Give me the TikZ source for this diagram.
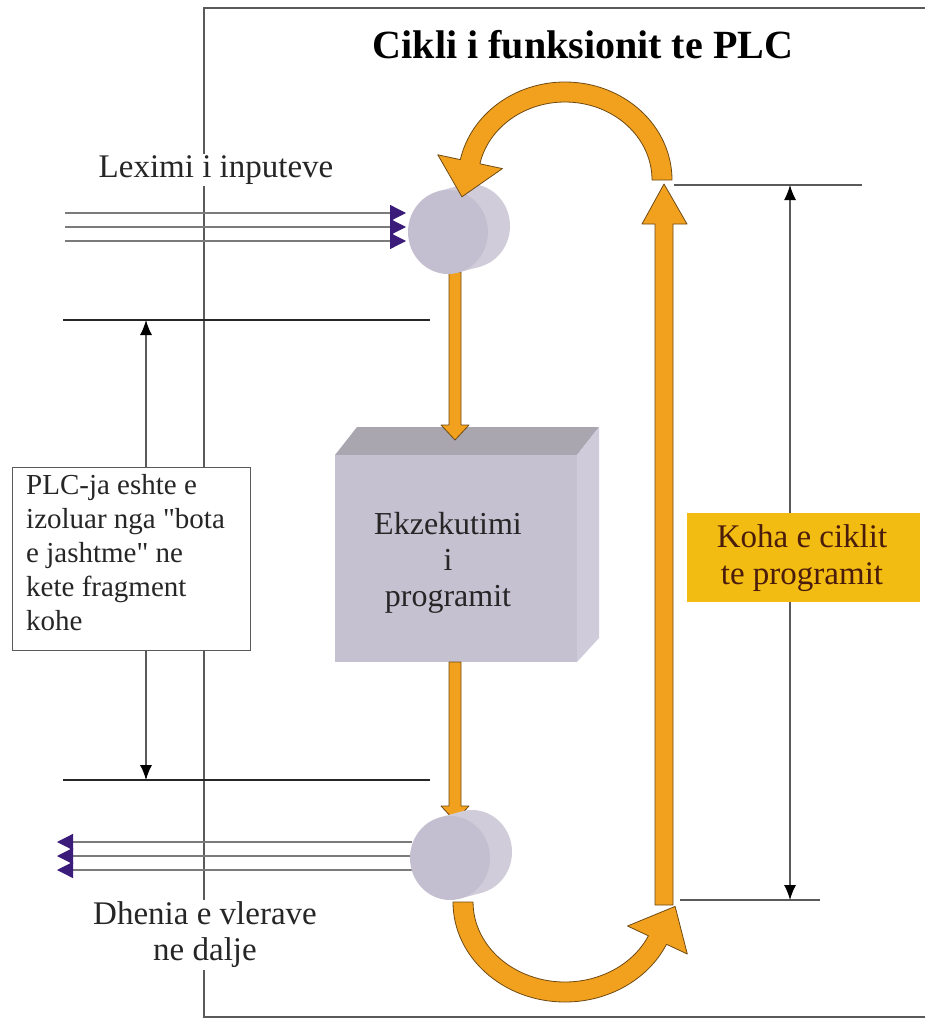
\documentclass[tikz,border=0pt]{standalone}
\usepackage{fontspec}
\setmainfont{Liberation Serif}
\usetikzlibrary{arrows.meta}
\definecolor{orng}{HTML}{F2A11E}
\definecolor{orngdark}{HTML}{6E4A12}
\definecolor{purp}{HTML}{3B1C7A}
\definecolor{cylfront}{HTML}{C4BFD0}
\definecolor{cylback}{HTML}{D0CCDA}
\definecolor{boxfront}{HTML}{C5C1D1}
\definecolor{boxtop}{HTML}{A9A6B0}
\definecolor{boxside}{HTML}{CFCBDB}
\definecolor{gold}{HTML}{F2BC12}
\definecolor{brown}{HTML}{4A1C0C}
\definecolor{linegray}{HTML}{5A5A5A}
\begin{document}
\begin{tikzpicture}[x=1pt,y=-1pt,
  thinline/.style={draw=linegray, line width=1.3pt},
  sigline/.style={draw=linegray!80, line width=1.3pt},
  sepline/.style={draw=black!85, line width=1.8pt},
  orangeshape/.style={fill=orng, draw=orngdark, line width=0.8pt, line join=round},
  dimarrow/.style={draw=linegray, line width=1.3pt, {Latex[length=15pt,width=12pt,color=black]}-{Latex[length=15pt,width=12pt,color=black]}},
  sigin/.style={draw=linegray!80, line width=1.3pt, -{Triangle[length=16pt,width=16pt,color=purp]}},
  txt/.style={font=\fontsize{33}{36}\selectfont, text=black!85},
  cylshape/.pic={
    \fill[cylback] (22,-6) ellipse[x radius=40, y radius=42];
    \fill[cylback] (10.5,40.5) -- (-10.5,-40.5) -- (11.5,-46.5) -- (32.5,34.5) -- cycle;
    \fill[cylfront] (0,0) ellipse[x radius=40, y radius=42];
  }]
\useasboundingbox (0,0) rectangle (925,1019);

% frame
\draw[thinline] (925,8) -- (204,8) -- (204,1017) -- (925,1017);

% title
\node (title) at (583,45) {\fontsize{40}{44}\selectfont\bfseries Cikli i funksionit te PLC};

% input signal lines
\foreach \yy [count=\i] in {213,227,241} {
  \coordinate (ins\i) at (65,\yy);
  \coordinate (ine\i) at (406,\yy);
  \draw[sigin] (ins\i) -- (ine\i);
}
% output signal lines
\foreach \yy [count=\i] in {842,856,870} {
  \coordinate (outs\i) at (412,\yy);
  \coordinate (oute\i) at (57,\yy);
  \draw[sigin] (outs\i) -- (oute\i);
}

% separators
\coordinate (s1a) at (63,320); \coordinate (s1b) at (430,320);
\coordinate (s2a) at (63,780); \coordinate (s2b) at (430,780);
\draw[sepline] (s1a) -- (s1b);
\draw[sepline] (s2a) -- (s2b);

% left dimension arrow
\coordinate (la) at (146,320); \coordinate (lb) at (146,780);
\draw[dimarrow] (la) -- (lb);

% isolation text box
\node (isobox) [draw=linegray, line width=1.3pt, fill=white, anchor=north west,
  minimum width=238pt, minimum height=183pt, inner sep=0pt] at (12,467) {};
\node (isotext) [anchor=north west, align=left, inner sep=0pt,
  font=\fontsize{29}{34}\selectfont, text=black!85] at (26,474)
  {PLC-ja eshte e\\izoluar nga \textquotedbl bota\\e jashtme\textquotedbl{} ne\\kete fragment\\kohe};

% labels
\node (lexo) [txt, fill=white, inner sep=2pt] at (216,170) {Leximi i inputeve};
\node (dhen) [txt, fill=white, inner sep=2pt, align=center] at (205,935) {Dhenia e vlerave\\ne dalje};

% 3D program box
\fill[boxtop] (335,455) -- (357,427) -- (599,427) -- (577,455) -- cycle;
\fill[boxside] (577,455) -- (599,427) -- (599,638) -- (577,662) -- cycle;
\node (prog) [fill=boxfront, anchor=north west, minimum width=242pt, minimum height=207pt, inner sep=0pt] at (335,455) {};
\node (progtext) [align=center, font=\fontsize{32}{36}\selectfont, text=black!85] at (448,563) {Ekzekutimi\\i\\programit};

% small orange arrows
\draw[orangeshape] (449,272) -- (449,425) -- (441,425) -- (455,440) -- (469,425) -- (461,425) -- (461,272) -- cycle;
\draw[orangeshape] (449,662) -- (449,806) -- (441,806) -- (455,821) -- (469,806) -- (461,806) -- (461,662) -- cycle;

% cylinders
\pic at (448,232) {cylshape};
\coordinate (incyl) at (459,229);
\pic at (450,858) {cylshape};
\coordinate (outcyl) at (461,855);

% big orange cycle arrows
\draw[orangeshape] (672,180) arc[start angle=0, end angle=-168, x radius=107, y radius=98]
  -- (437.8,154.8) -- (461.9,196.8) -- (502.4,168.6) -- (479.9,163.8)
  arc[start angle=-168, end angle=0, x radius=87, y radius=78] -- cycle;
\draw[orangeshape] (453,902) arc[start angle=180, end angle=25, x radius=112, y radius=100]
  -- (687.3,954) -- (675.1,906.4) -- (627.5,926) -- (648.4,935.8)
  arc[start angle=25, end angle=180, x radius=92, y radius=80] -- cycle;
\draw[orangeshape] (655,905) -- (655,224) -- (642,224) -- (664,184) -- (687,224) -- (673,224) -- (673,905) -- cycle;

% right dimension
\coordinate (r1a) at (674,185); \coordinate (r1b) at (862,185);
\coordinate (r2a) at (680,900); \coordinate (r2b) at (820,900);
\draw[thinline] (r1a) -- (r1b);
\draw[thinline] (r2a) -- (r2b);
\coordinate (ra) at (790,185); \coordinate (rb) at (790,900);
\draw[dimarrow] (ra) -- (rb);

% cycle time label
\node (koha) [fill=gold, anchor=north west, minimum width=233pt, minimum height=89pt, inner sep=0pt] at (687,513) {};
\node (kohatext) [align=center, font=\fontsize{33}{37}\selectfont, text=brown] at (802,558) {Koha e ciklit\\te programit};
\end{tikzpicture}
\end{document}
